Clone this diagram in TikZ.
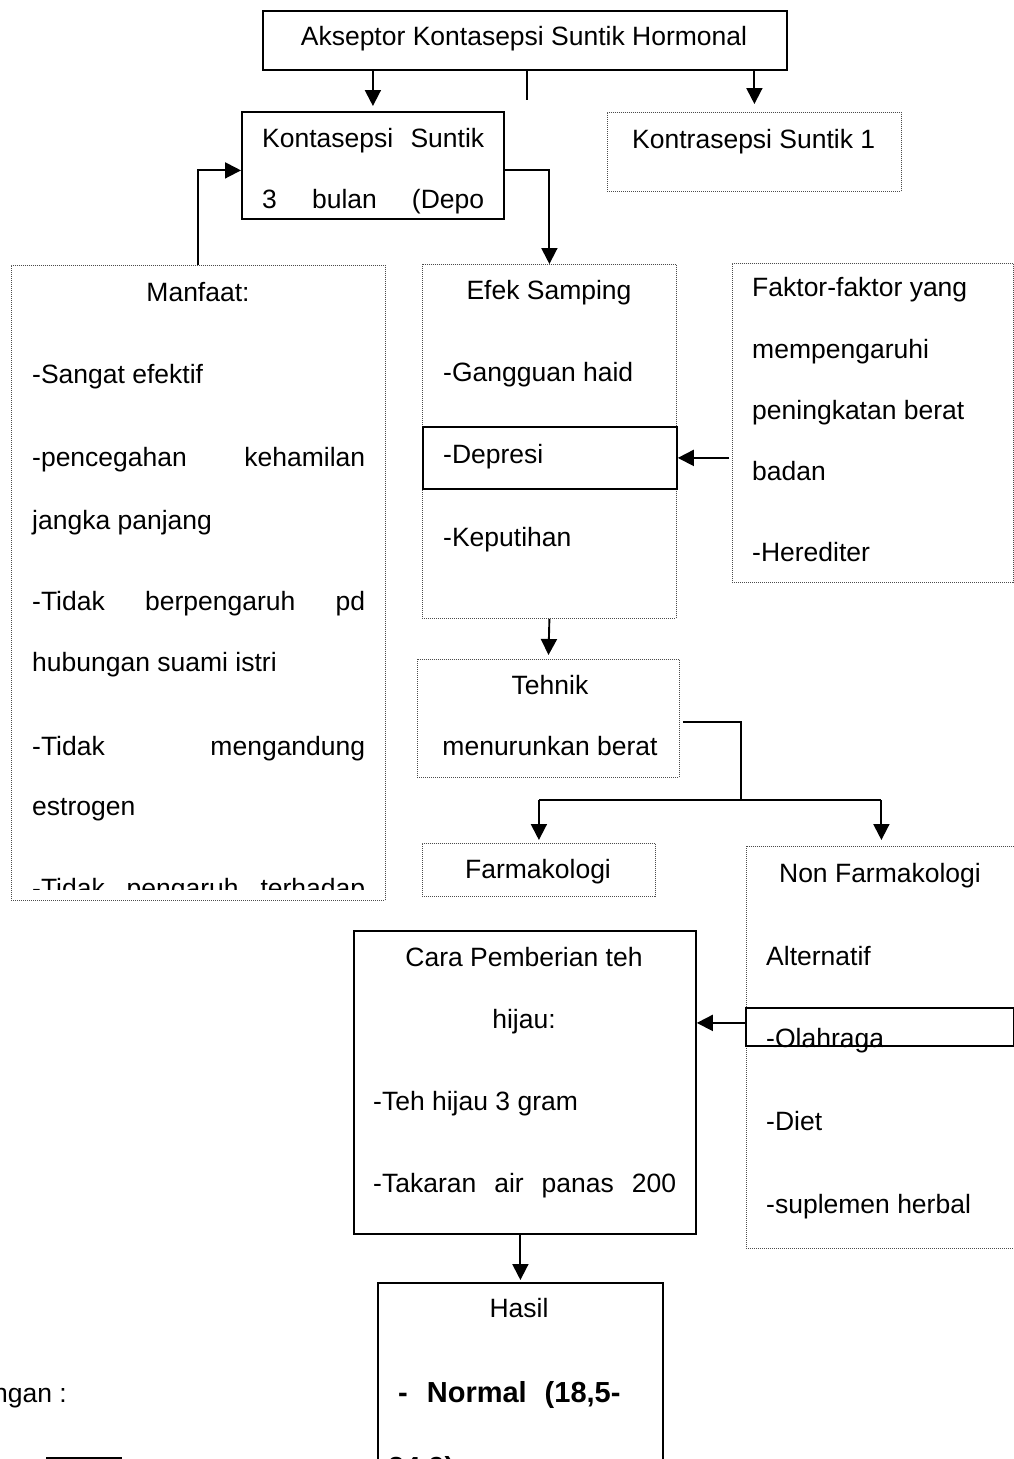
\documentclass[tikz,border=0pt]{standalone}
\usepackage{fontspec}
\setmainfont{Liberation Sans}
\usetikzlibrary{arrows.meta,calc}
\begin{document}
\begin{tikzpicture}[x=1pt,y=-1pt,
  solidbox/.style={draw=black,line width=1.8pt,rectangle,anchor=north west,inner sep=0pt},
  dotbox/.style={draw=black!70,line width=0.8pt,dash pattern=on 1pt off 1pt,rectangle,anchor=north west,inner sep=0pt},
  txt/.style={inner sep=0pt,font=\fontsize{26.5}{30}\selectfont,anchor=base west},
  ctxt/.style={txt,anchor=base},
  conn/.style={draw=black,line width=1.9pt},
  arr/.style={conn,-{Triangle[length=16pt,width=16pt]}}]
\useasboundingbox (0,0) rectangle (1014,1459);
\clip (0,0) rectangle (1014,1459);

% ---------- boxes ----------
\node[solidbox,minimum width=524pt,minimum height=59pt] (top) at (262,10) {};
\node[solidbox,minimum width=262pt,minimum height=107pt] (kont3) at (241,111) {};
\node[dotbox,minimum width=294pt,minimum height=79pt] (kont1) at (607,112) {};
\node[dotbox,minimum width=374pt,minimum height=635pt] (manfaat) at (11,265) {};
\node[dotbox,minimum width=254pt,minimum height=354pt] (efek) at (422,264) {};
\node[solidbox,minimum width=254pt,minimum height=62pt] (depresi) at (422,426) {};
\node[dotbox,minimum width=281pt,minimum height=319pt] (faktor) at (732,263) {};
\node[dotbox,minimum width=262pt,minimum height=118pt] (tehnik) at (417,659) {};
\node[dotbox,minimum width=233pt,minimum height=53pt] (farm) at (422,843) {};
\node[dotbox,minimum width=270pt,minimum height=402pt] (nonfarm) at (746,846) {};
\node[solidbox,minimum width=268pt,minimum height=38pt] (olah) at (745,1007) {};
\node[solidbox,minimum width=342pt,minimum height=303pt] (cara) at (353,930) {};
\node[solidbox,minimum width=285pt,minimum height=200pt] (hasil) at (377,1282) {};

% ---------- texts ----------
\node[ctxt] (ttop) at (524,45) {Akseptor Kontasepsi Suntik Hormonal};

\begin{scope}
\clip (241,111) rectangle (503,217);
\node[txt] (tk1) at (262,147) {\hbox to 222pt{Kontasepsi\hfill Suntik}};
\node[txt] (tk2) at (262,208) {\hbox to 222pt{3\hfill bulan\hfill (Depo}};
\end{scope}

\node[txt] (tk3) at (632,148) {Kontrasepsi Suntik 1};

\node[ctxt] (tm0) at (198,301) {Manfaat:};
\node[txt] (tm1) at (32,383) {-Sangat efektif};
\node[txt] (tm2) at (32,466) {\hbox to 333pt{-pencegahan\hfill kehamilan}};
\node[txt] (tm3) at (32,529) {jangka panjang};
\node[txt] (tm4) at (32,610) {\hbox to 333pt{-Tidak\hfill berpengaruh\hfill pd}};
\node[txt] (tm5) at (32,671) {hubungan suami istri};
\node[txt] (tm6) at (32,755) {\hbox to 333pt{-Tidak\hfill mengandung}};
\node[txt] (tm7) at (32,815) {estrogen};
\begin{scope}
\clip (11,265) rectangle (385,889);
\node[txt] (tm8) at (32,897) {\hbox to 333pt{-Tidak\hfill pengaruh\hfill terhadap}};
\end{scope}

\node[ctxt] (te0) at (549,299) {Efek Samping};
\node[txt] (te1) at (443,381) {-Gangguan haid};
\node[txt] (te2) at (443,463) {-Depresi};
\node[txt] (te3) at (443,546) {-Keputihan};

\node[txt] (tf1) at (752,296) {Faktor-faktor yang};
\node[txt] (tf2) at (752,358) {mempengaruhi};
\node[txt] (tf3) at (752,419) {peningkatan berat};
\node[txt] (tf4) at (752,480) {badan};
\node[txt] (tf5) at (752,561) {-Herediter};

\node[ctxt] (tt1) at (550,694) {Tehnik};
\node[ctxt] (tt2) at (550,755) {menurunkan berat};

\node[ctxt] (tfa) at (538,878) {Farmakologi};
\node[ctxt] (tn0) at (880,882) {Non Farmakologi};
\node[txt] (tn1) at (766,965) {Alternatif};
\node[txt] (tn2) at (766,1047) {-Olahraga};
\node[txt] (tn3) at (766,1130) {-Diet};
\node[txt] (tn4) at (766,1213) {-suplemen herbal};

\node[ctxt] (tc0) at (524,966) {Cara Pemberian teh};
\node[ctxt] (tc1) at (524,1028) {hijau:};
\node[txt] (tc2) at (373,1110) {-Teh hijau 3 gram};
\node[txt] (tc3) at (373,1192) {\hbox to 303pt{-Takaran\hfill air\hfill panas\hfill 200}};

\node[ctxt] (th0) at (519,1317) {Hasil};
\node[txt,font=\fontsize{29}{32}\selectfont\bfseries] (th1) at (398,1402) {-\hspace{19pt}Normal\hspace{18pt}(18,5-};
\node[txt,font=\fontsize{29}{32}\selectfont\bfseries] (th2) at (388,1477) {24,9)};

\node[txt,anchor=base east] (tket) at (67,1402) {Keterangan :};
\coordinate (leg1) at (46,1458);
\coordinate (leg2) at (122,1458);
\draw[conn] (leg1) -- (leg2);

% ---------- connectors ----------
\coordinate (stub) at (527,100);
\draw[arr,shorten >=5pt] (top.south -| kont3.north) -- (kont3.north);
\draw[conn] (top.south -| stub) -- (stub);
\draw[arr,shorten >=8pt] (top.south -| kont1.north) -- (kont1.north);
\draw[arr] (manfaat.north) |- ([yshift=-5pt]kont3.west);
\draw[arr] ([yshift=-5pt]kont3.east) -| (efek.north);
\draw[arr,shorten <=3pt] (faktor.west |- depresi.east) -- (depresi.east);
\draw[arr,shorten >=4pt] (efek.south) -- (tehnik.north);
\coordinate (br) at (741,800);
\draw[conn] ([xshift=3pt,yshift=-4pt]tehnik.east) -| (br);
\draw[conn] (farm.north |- br) -- (nonfarm.north |- br);
\draw[arr,shorten >=3pt] (farm.north |- br) -- (farm.north);
\draw[arr,shorten >=6pt] (nonfarm.north |- br) -- (nonfarm.north);
\draw[arr] ([yshift=4pt]olah.west) -- ([yshift=4pt]cara.east |- olah.west);
\draw[arr,shorten >=2pt] (cara.south -| hasil.north) -- (hasil.north);
\end{tikzpicture}
\end{document}
